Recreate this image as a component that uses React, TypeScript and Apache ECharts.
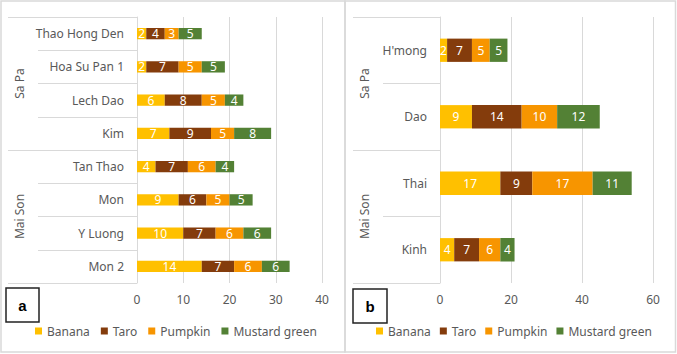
import React, { useEffect, useRef } from "react";
import * as echarts from "echarts";

const seriesNames = ["Banana", "Taro", "Pumpkin", "Mustard green"];
const colors = ["#FFC000", "#843C0C", "#F79500", "#538135"];

const catsA = ["Thao Hong Den", "Hoa Su Pan 1", "Lech Dao", "Kim", "Tan Thao", "Mon", "Y Luong", "Mon 2"];
const groupsA = ["Sa Pa", "Mai Son"];
const bananaA = [2, 2, 6, 7, 4, 9, 10, 14];
const taroA = [4, 7, 8, 9, 7, 6, 7, 7];
const pumpkinA = [3, 5, 5, 5, 6, 5, 6, 6];
const mustardA = [5, 5, 4, 8, 4, 5, 6, 6];
const ticksA = [0, 10, 20, 30, 40];

const catsB = ["H'mong", "Dao", "Thai", "Kinh"];
const groupsB = ["Sa Pa", "Mai Son"];
const bananaB = [2, 9, 17, 4];
const taroB = [7, 14, 9, 7];
const pumpkinB = [5, 10, 17, 6];
const mustardB = [5, 12, 11, 4];
const ticksB = [0, 20, 40, 60];

const FONT = "Noto Sans";
const GRAY = "#595959";
const LINE = "#D9D9D9";

export default function App() {
  const ref = useRef<HTMLDivElement>(null);
  useEffect(() => {
    document.body.style.margin = "0";
    const chart = echarts.init(ref.current!, null, { renderer: "svg" });
    const dataA = [bananaA, taroA, pumpkinA, mustardA];
    const dataB = [bananaB, taroB, pumpkinB, mustardB];
    const mkSeries = (data: number[][], idx: number, bw: string) =>
      data.map((d, i) => ({
        type: "bar",
        name: seriesNames[i],
        stack: "s" + idx,
        xAxisIndex: idx,
        yAxisIndex: idx * 2,
        data: d,
        barWidth: bw,
        itemStyle: { color: colors[i] },
        label: {
          show: true,
          position: "inside",
          color: "#fff",
          fontSize: 12,
          fontFamily: FONT,
        },
      }));
    const xAx = (idx: number, ticks: number[]) => ({
      type: "value",
      gridIndex: idx,
      min: ticks[0],
      max: ticks[ticks.length - 1],
      interval: ticks[1] - ticks[0],
      axisLine: { show: false },
      axisTick: { show: false },
      splitLine: { lineStyle: { color: LINE, width: 1 } },
      axisLabel: { color: GRAY, fontSize: 12, fontFamily: FONT, margin: 10 },
    });
    const yCat = (idx: number, cats: string[], tickLen: number) => ({
      type: "category",
      gridIndex: idx,
      data: cats,
      inverse: true,
      position: "left",
      axisLine: { show: true, lineStyle: { color: LINE, width: 1 } },
      axisTick: { show: true, length: tickLen, lineStyle: { color: LINE, width: 1 } },
      axisLabel: { color: GRAY, fontSize: 12, fontFamily: FONT, margin: 13, interval: 0 },
    });
    const yGroup = (idx: number, groups: string[], tickLen: number, margin: number) => ({
      type: "category",
      gridIndex: idx,
      data: groups,
      inverse: true,
      position: "left",
      axisLine: { show: false },
      axisTick: { show: true, length: tickLen, lineStyle: { color: LINE, width: 1 } },
      axisLabel: { color: GRAY, fontSize: 12, fontFamily: FONT, margin, rotate: 90, interval: 0 },
    });
    const legend = (left: number, gap: number) => ({
      left,
      top: 320,
      icon: "rect",
      itemWidth: 7,
      itemHeight: 7,
      itemGap: gap,
      data: seriesNames,
      textStyle: { color: GRAY, fontSize: 12, fontFamily: FONT },
    });
    chart.setOption({
      animation: false,
      grid: [
        { left: 137, top: 17, width: 185, height: 266 },
        { left: 440, top: 17, width: 213, height: 266 },
      ],
      xAxis: [xAx(0, ticksA), xAx(1, ticksB)],
      yAxis: [
        yCat(0, catsA, 99),
        yGroup(0, groupsA, 129, 112),
        yCat(1, catsB, 57),
        yGroup(1, groupsB, 87, 70),
      ],
      legend: [legend(30, 11), legend(371, 9)],
      series: [...mkSeries(dataA, 0, "34%"), ...mkSeries(dataB, 1, "35%")],
      graphic: [
        { type: "rect", shape: { x: 1, y: 1, width: 344, height: 351 }, style: { fill: "none", stroke: LINE, lineWidth: 1.5 } },
        { type: "rect", shape: { x: 345, y: 1, width: 330.5, height: 351 }, style: { fill: "none", stroke: LINE, lineWidth: 1.5 } },
        { type: "rect", shape: { x: 6, y: 288, width: 33, height: 34 }, style: { fill: "#fff", stroke: "#222", lineWidth: 1.5 } },
        { type: "text", x: 22.5, y: 305, style: { text: "a", fill: "#000", font: "bold 15px Arial", align: "center", verticalAlign: "middle" } },
        { type: "rect", shape: { x: 353, y: 289, width: 34, height: 34 }, style: { fill: "#fff", stroke: "#222", lineWidth: 1.5 } },
        { type: "text", x: 370, y: 306, style: { text: "b", fill: "#000", font: "bold 15px Arial", align: "center", verticalAlign: "middle" } },
      ],
    });
    return () => chart.dispose();
  }, []);
  return <div ref={ref} style={{ width: 677, height: 354 }} />;
}
